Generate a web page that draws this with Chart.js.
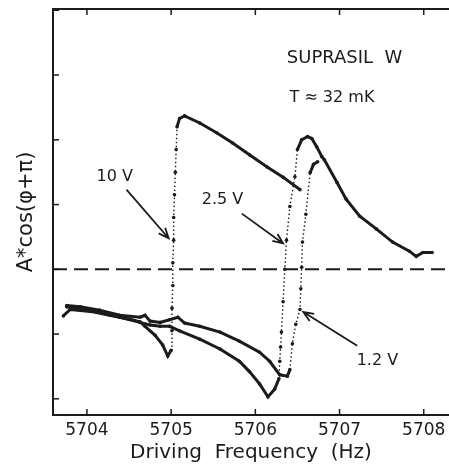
<!DOCTYPE html>
<html>
<head>
<meta charset="utf-8">
<script src="https://cdn.jsdelivr.net/npm/chart.js@4"></script>
<style>
  html, body { margin: 0; padding: 0; background: #fff; }
  #wrap { width: 449px; height: 465px; }
</style>
</head>
<body>
<div id="wrap"><canvas id="resChart"></canvas></div>
<script>
/* ── Data (frequency in Hz, in-phase amplitude in arb. units) ── */
const xTicks = [5704, 5705, 5706, 5707, 5708];
const yTicks = [-2, -1, 0, 1, 2, 3, 4];

// 10 V sweep: lower branch, jump at 5705, upper branch
const v10 = [
  [5703.72, -0.72], [5703.80, -0.62], [5704.04, -0.65], [5704.27, -0.71], [5704.51, -0.77],
  [5704.63, -0.81], [5704.69, -0.88], [5704.81, -1.02], [5704.90, -1.17], [5704.96, -1.34],
  [5705.00, -1.25], [5705.01, -0.95], [5705.01, -0.60], [5705.02, -0.25], [5705.02, 0.10],
  [5705.03, 0.45], [5705.03, 0.80], [5705.04, 1.15], [5705.05, 1.50], [5705.06, 1.85],
  [5705.07, 2.20], [5705.10, 2.33], [5705.16, 2.37], [5705.34, 2.26], [5705.54, 2.11],
  [5705.73, 1.95], [5705.93, 1.77], [5706.14, 1.58], [5706.33, 1.42], [5706.53, 1.23]
];

// 2.5 V sweep: lower branch, jump near 5706.3, peak and tail
const v25 = [
  [5703.76, -0.58], [5703.92, -0.62], [5704.15, -0.66], [5704.39, -0.74], [5704.63, -0.82],
  [5704.75, -0.86], [5704.87, -0.88], [5704.98, -0.88], [5705.10, -0.95], [5705.34, -1.08],
  [5705.58, -1.23], [5705.81, -1.42], [5705.93, -1.58], [5706.05, -1.77], [5706.15, -1.97],
  [5706.23, -1.85], [5706.28, -1.69], [5706.29, -1.42], [5706.30, -1.20], [5706.31, -0.97],
  [5706.33, -0.50], [5706.35, 0.00], [5706.37, 0.45], [5706.41, 0.97], [5706.47, 1.43],
  [5706.50, 1.85], [5706.55, 2.00], [5706.62, 2.05], [5706.67, 2.02], [5706.73, 1.89],
  [5706.79, 1.74], [5706.82, 1.69], [5706.97, 1.34], [5707.08, 1.08], [5707.24, 0.82],
  [5707.44, 0.62], [5707.63, 0.42], [5707.83, 0.28], [5707.91, 0.20], [5707.99, 0.26],
  [5708.10, 0.26]
];

// 1.2 V sweep: lower branch, jump near 5706.5, joins the tail
const v12 = [
  [5703.76, -0.56], [5703.92, -0.58], [5704.15, -0.63], [5704.39, -0.71], [5704.63, -0.74],
  [5704.69, -0.71], [5704.75, -0.80], [5704.87, -0.82], [5704.98, -0.78], [5705.08, -0.74],
  [5705.16, -0.83], [5705.34, -0.88], [5705.58, -0.97], [5705.81, -1.11], [5706.05, -1.28],
  [5706.17, -1.42], [5706.29, -1.63], [5706.38, -1.65], [5706.41, -1.55], [5706.44, -1.15],
  [5706.48, -0.85], [5706.53, -0.62], [5706.54, -0.30], [5706.55, 0.03], [5706.56, 0.42],
  [5706.60, 0.85], [5706.65, 1.49], [5706.69, 1.62], [5706.74, 1.66]
];

const zeroLine = [[5703.597, 0], [5708.30, 0]];

// labels and arrows, in data coordinates
const notes = [
  { text: 'SUPRASIL  W', x: 5707.06, y: 3.26, size: 18 },
  { text: 'T \u2248 32 mK', x: 5706.91, y: 2.65, size: 16 },
  { text: '10 V', x: 5704.33, y: 1.43, size: 16 },
  { text: '2.5 V', x: 5705.61, y: 1.08, size: 16 },
  { text: '1.2 V', x: 5707.45, y: -1.42, size: 16 }
];
const arrows = [
  [5704.47, 1.23, 5704.97, 0.48],
  [5705.84, 0.86, 5706.33, 0.40],
  [5707.21, -1.18, 5706.57, -0.66]
];

const toXY = arr => arr.map(([x, y]) => ({ x, y }));
const INK = '#1b1b1b';
const FONT = "'DejaVu Sans', sans-serif";

/* ── jumps are drawn dotted ── */
const steep = ctx => {
  const dx = Math.abs(ctx.p1.x - ctx.p0.x);
  const dy = Math.abs(ctx.p1.y - ctx.p0.y);
  return dy > 14 && dy > 2.5 * dx;
};

function sweep(data) {
  return {
    data: toXY(data),
    showLine: true,
    borderColor: INK,
    backgroundColor: INK,
    borderWidth: 3,
    pointRadius: 1.8,
    pointBorderWidth: 0,
    segment: {
      borderDash: ctx => steep(ctx) ? [1.5, 2.5] : undefined,
      borderWidth: ctx => steep(ctx) ? 1.4 : undefined
    }
  };
}

/* ── inward ticks, top frame, notes and arrows ── */
const decorPlugin = {
  id: 'decor',
  afterDraw(chart) {
    const { ctx, chartArea: a, scales: { x, y } } = chart;
    ctx.save();
    ctx.strokeStyle = INK;
    ctx.lineWidth = 2;
    ctx.beginPath();
    ctx.moveTo(a.left - 1, a.top);
    ctx.lineTo(a.right, a.top);
    ctx.stroke();

    ctx.lineWidth = 1.5;
    xTicks.forEach(v => {
      const px = x.getPixelForValue(v);
      ctx.beginPath();
      ctx.moveTo(px, a.bottom); ctx.lineTo(px, a.bottom - 6);
      ctx.moveTo(px, a.top); ctx.lineTo(px, a.top + 6);
      ctx.stroke();
    });
    yTicks.forEach(v => {
      const py = y.getPixelForValue(v);
      ctx.beginPath();
      ctx.moveTo(a.left, py); ctx.lineTo(a.left + 6, py);
      ctx.stroke();
    });

    ctx.fillStyle = INK;
    ctx.textAlign = 'center';
    ctx.textBaseline = 'middle';
    notes.forEach(n => {
      ctx.font = `${n.size}px ${FONT}`;
      ctx.fillText(n.text, x.getPixelForValue(n.x), y.getPixelForValue(n.y));
    });

    ctx.lineWidth = 1.8;
    arrows.forEach(([x0, y0, x1, y1]) => {
      const ax = x.getPixelForValue(x0), ay = y.getPixelForValue(y0);
      const bx = x.getPixelForValue(x1), by = y.getPixelForValue(y1);
      const ang = Math.atan2(by - ay, bx - ax);
      ctx.beginPath();
      ctx.moveTo(ax, ay); ctx.lineTo(bx, by);
      ctx.moveTo(bx - 11 * Math.cos(ang - 0.4), by - 11 * Math.sin(ang - 0.4));
      ctx.lineTo(bx, by);
      ctx.lineTo(bx - 11 * Math.cos(ang + 0.4), by - 11 * Math.sin(ang + 0.4));
      ctx.stroke();
    });
    ctx.restore();
  }
};

new Chart(document.getElementById('resChart'), {
  type: 'scatter',
  data: {
    datasets: [
      {
        data: toXY(zeroLine),
        showLine: true,
        borderColor: INK,
        borderWidth: 2,
        borderDash: [14, 7],
        pointRadius: 0
      },
      sweep(v10),
      sweep(v25),
      sweep(v12)
    ]
  },
  options: {
    responsive: true,
    maintainAspectRatio: false,
    animation: false,
    layout: { autoPadding: false, padding: { top: 9, right: 0, left: 0, bottom: 0 } },
    plugins: { legend: { display: false }, tooltip: { enabled: false } },
    scales: {
      x: {
        type: 'linear',
        min: 5703.597,
        max: 5708.30,
        afterBuildTicks: s => { s.ticks = xTicks.map(v => ({ value: v })); },
        afterFit: s => { s.height = 50; s.paddingLeft = 0; s.paddingRight = 0; },
        grid: { display: false, drawTicks: false },
        border: { display: true, color: INK, width: 2 },
        ticks: { color: INK, font: { family: FONT, size: 17 }, padding: 5, callback: v => String(v) },
        title: {
          display: true,
          text: 'Driving  Frequency  (Hz)',
          color: INK,
          font: { family: FONT, size: 20 },
          padding: { top: 0, bottom: 0 }
        }
      },
      y: {
        type: 'linear',
        min: -2.25,
        max: 4.02,
        afterBuildTicks: s => { s.ticks = yTicks.map(v => ({ value: v })); },
        afterFit: s => { s.width = 53; },
        grid: { display: false, drawTicks: false },
        border: { display: true, color: INK, width: 2 },
        ticks: { display: false },
        title: {
          display: true,
          text: 'A*cos(\u03c6+\u03c0)',
          color: INK,
          font: { family: FONT, size: 21 },
          padding: { top: 14, bottom: 0 }
        }
      }
    }
  },
  plugins: [decorPlugin]
});
</script>
</body>
</html>
